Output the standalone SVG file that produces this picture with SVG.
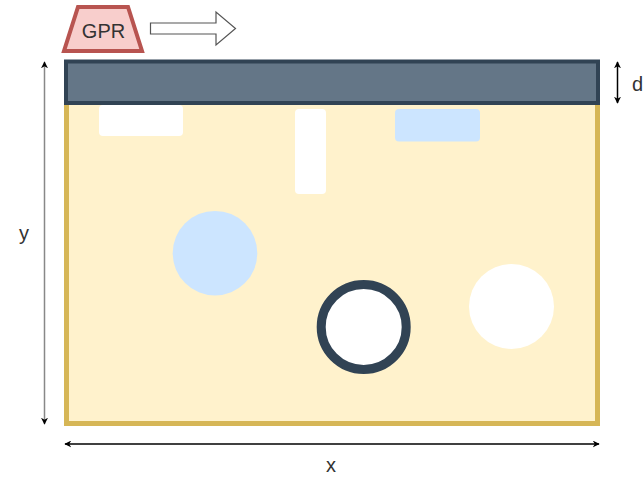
<svg xmlns="http://www.w3.org/2000/svg" width="644" height="478" viewBox="0 0 644 478">
<style>
text{font-family:"Liberation Sans",Arial,sans-serif;font-size:20px;fill:#333333}
.dim{stroke:#000;stroke-width:1.5;fill:none}
</style>
<defs>
<marker id="ah" viewBox="0 0 10 10" refX="9" refY="5" markerWidth="7" markerHeight="7" markerUnits="userSpaceOnUse" orient="auto-start-reverse">
<path d="M0,0 L10,5 L0,10 L3,5 Z" fill="#000"/>
</marker>
</defs>
<rect width="644" height="478" fill="#ffffff"/>
<g id="ground">
<rect x="66.5" y="101" width="531" height="322.5" fill="#fff2cc" stroke="#d6b656" stroke-width="5"/>
</g>
<g id="surface">
<rect x="66" y="61.5" width="532" height="41.5" fill="#647687" stroke="#314354" stroke-width="4"/>
</g>
<g id="void1"><rect x="99" y="105" width="84" height="31" rx="4" fill="#ffffff"/></g>
<g id="void2"><rect x="295" y="109" width="31" height="85" rx="4" fill="#ffffff"/></g>
<g id="water1"><rect x="395" y="109" width="85" height="32.5" rx="4" fill="#cce5ff"/></g>
<g id="water2"><circle cx="215" cy="253.2" r="42.3" fill="#cce5ff"/></g>
<g id="pipe"><circle cx="363.7" cy="327" r="42.5" fill="#ffffff" stroke="#314354" stroke-width="9"/></g>
<g id="void3"><circle cx="511.5" cy="306.5" r="42.5" fill="#ffffff"/></g>
<g id="gpr">
<path d="M78,7 L128,7 L142,51 L64,51 Z" fill="#f8cecc" stroke="#b85450" stroke-width="4" stroke-linejoin="miter"/>
<text x="103.5" y="38" text-anchor="middle">GPR</text>
</g>
<g id="direction">
<path d="M150.5,23 L216,23 L216,12 L235.5,28.5 L216,45 L216,34 L150.5,34 Z" fill="#ffffff" stroke="#555555" stroke-width="1.2"/>
</g>
<g id="connectors">
<line class="dim" x1="617.5" y1="62" x2="617.5" y2="103" marker-start="url(#ah)" marker-end="url(#ah)"/>
<line x1="44.5" y1="62" x2="44.5" y2="424" stroke="#888888" stroke-width="1.5" marker-start="url(#ah)" marker-end="url(#ah)"/>
<line class="dim" x1="65" y1="444" x2="599" y2="444" marker-start="url(#ah)" marker-end="url(#ah)"/>
</g>
<g id="labels">
<text x="632" y="91">d</text>
<text x="24" y="240" text-anchor="middle">y</text>
<text x="331" y="472" text-anchor="middle">x</text>
</g>
</svg>
